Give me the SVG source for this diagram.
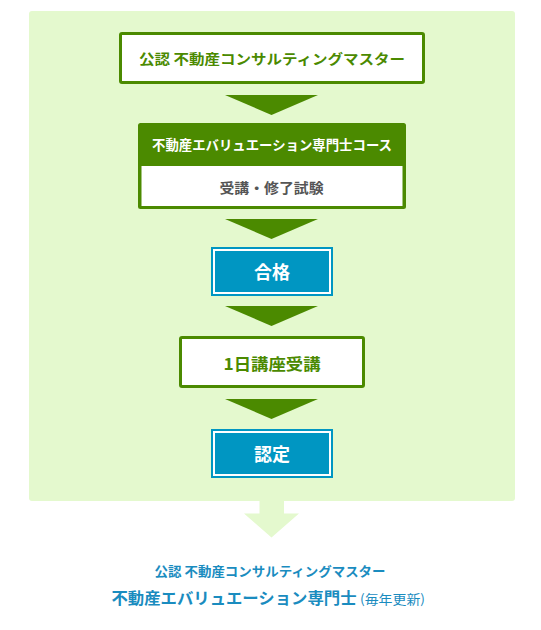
<svg xmlns="http://www.w3.org/2000/svg" width="541" height="630" viewBox="0 0 541 630">
<style>
.t{font-family:"Noto Sans CJK JP","Noto Sans",sans-serif;font-weight:bold;text-anchor:middle}
.gbox{fill:#ffffff;stroke:#4b8a00;stroke-width:3}
.bbox{fill:#0096c2}
.arr{fill:#4b8a00}
</style>
<rect x="29" y="11" width="486" height="490" rx="3" fill="#e4f9ce"/>
<g id="connectors">
<polygon class="arr" points="225,95 318,95 271.5,115"/>
<polygon class="arr" points="225,219 318,219 271.5,239"/>
<polygon class="arr" points="225,306 318,306 271.5,326"/>
<polygon class="arr" points="225,399 318,399 271.5,419"/>
<polygon fill="#e4f9ce" points="259.5,501 284,501 284,513.5 299,513.5 271.5,537.5 244,513.5 259.5,513.5"/>
</g>
<g id="node-master">
<rect class="gbox" x="120.5" y="33.5" width="303" height="49" rx="1.5"/>
<text class="t" x="272" y="64" font-size="14" fill="#4b8a00" textLength="266" lengthAdjust="spacingAndGlyphs">公認 不動産コンサルティングマスター</text>
</g>
<g id="node-course">
<rect x="138" y="123" width="268" height="86" rx="2.5" fill="#4b8a00"/>
<rect x="141.5" y="166" width="261" height="40" fill="#ffffff"/>
<text class="t" x="272" y="150" font-size="13.5" fill="#ffffff" textLength="240" lengthAdjust="spacingAndGlyphs">不動産エバリュエーション専門士コース</text>
<text class="t" x="271.5" y="193" font-size="14" fill="#555555" textLength="104" lengthAdjust="spacingAndGlyphs">受講・修了試験</text>
</g>
<g id="node-pass">
<rect class="bbox" x="211" y="247" width="122" height="49"/>
<rect x="214" y="250" width="116" height="43" fill="none" stroke="#ffffff" stroke-width="2"/>
<text class="t" x="272" y="279" font-size="18" fill="#ffffff">合格</text>
</g>
<g id="node-lecture">
<rect class="gbox" x="180.5" y="337.5" width="183" height="49" rx="1.5"/>
<text class="t" x="272" y="370" font-size="16" fill="#4b8a00" textLength="97" lengthAdjust="spacingAndGlyphs">1日講座受講</text>
</g>
<g id="node-cert">
<rect class="bbox" x="211" y="429" width="122" height="49"/>
<rect x="214" y="432" width="116" height="43" fill="none" stroke="#ffffff" stroke-width="2"/>
<text class="t" x="272" y="461" font-size="18" fill="#ffffff">認定</text>
</g>
<g id="result">
<text class="t" x="270" y="576" font-size="13" fill="#1a8cbf" textLength="231" lengthAdjust="spacingAndGlyphs">公認 不動産コンサルティングマスター</text>
<text class="t" x="234" y="604" font-size="16" fill="#1a8cbf" textLength="245" lengthAdjust="spacingAndGlyphs">不動産エバリュエーション専門士</text>
<text x="392.5" y="603.5" font-size="13" fill="#1a8cbf" text-anchor="middle" font-family="Noto Sans CJK JP,sans-serif" textLength="65" lengthAdjust="spacingAndGlyphs">(毎年更新)</text>
</g>
</svg>
